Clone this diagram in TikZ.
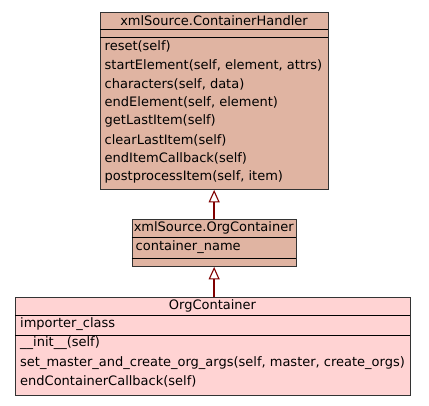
\documentclass[tikz,border=0pt]{standalone}
\usepackage{fontspec}
\setmainfont{DejaVu Sans}
\usetikzlibrary{arrows.meta}

\definecolor{basefill}{HTML}{E0B4A2}
\definecolor{childfill}{HTML}{FFD3D3}
\definecolor{inheritred}{HTML}{800000}

\tikzset{
  classbox/.style={draw=black!80, line width=0.9pt, anchor=north west, inner sep=0pt},
  classtitle/.style={inner sep=0pt, font=\fontsize{13}{15}\selectfont},
  member/.style={anchor=west, inner sep=0pt, font=\fontsize{13}{15}\selectfont},
  divider/.style={draw=black, line width=0.9pt},
  inheritance/.style={draw=inheritred, line width=2pt,
    -{Triangle[open, width=11pt, length=12.5pt, line width=1.1pt, fill=white]}}
}

\begin{document}
\begin{tikzpicture}[x=1pt, y=-1pt]
  \useasboundingbox (0,0) rectangle (429,405);

  % Base handler class
  \node[classbox, fill=basefill, minimum width=228pt, minimum height=177pt] (handler) at (100,12) {};
  \node[classtitle] (handlertitle) at (214,20.5) {xmlSource.ContainerHandler};
  \draw[divider] (100,29) -- (328,29);
  \draw[divider] (100,37) -- (328,37);
  \foreach \m [count=\i] in {reset(self), {startElement(self, element, attrs)},
      {characters(self, data)}, {endElement(self, element)}, getLastItem(self),
      clearLastItem(self), endItemCallback(self), {postprocessItem(self, item)}} {
    \node[member] (handler-\i) at (104.5,{46.7+18.66*(\i-1)}) {\m};
  }

  % Intermediate class
  \node[classbox, fill=basefill, minimum width=164pt, minimum height=46.7pt] (orgbase) at (131.7,219.3) {};
  \node[classtitle] (orgbasetitle) at (213.7,227.8) {xmlSource.OrgContainer};
  \draw[divider] (131.7,237.3) -- (295.7,237.3);
  \node[member] (orgbase-1) at (135.5,247.5) {container\_name};
  \draw[divider] (131.7,258.3) -- (295.7,258.3);

  % Derived class
  \node[classbox, fill=childfill, minimum width=395pt, minimum height=97.7pt] (orgcontainer) at (15,297.3) {};
  \node[classtitle] (orgcontainertitle) at (212.5,306) {OrgContainer};
  \draw[divider] (15,315) -- (410,315);
  \node[member] (orgcontainer-1) at (20,324) {importer\_class};
  \draw[divider] (15,335.7) -- (410,335.7);
  \foreach \m [count=\i] in {\_\_init\_\_(self),
      {set\_master\_and\_create\_org\_args(self, master, create\_orgs)},
      endContainerCallback(self)} {
    \node[member] (orgcontainer-m\i) at (20,{343.5+19.1*(\i-1)}) {\m};
  }

  % Inheritance arrows
  \draw[inheritance] (orgbase.north) -- (orgbase.north |- handler.south);
  \draw[inheritance] (orgbase.south |- orgcontainer.north) -- (orgbase.south);
\end{tikzpicture}
\end{document}
